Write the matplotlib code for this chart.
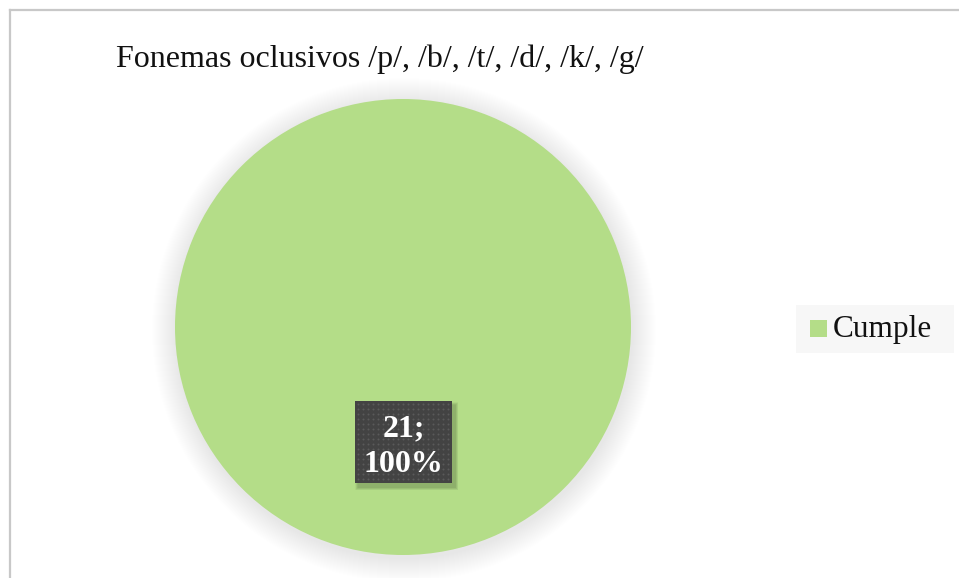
import matplotlib
matplotlib.use("Agg")
import matplotlib.pyplot as plt
from matplotlib.patches import Circle, Rectangle
import numpy as np

categories = ["Cumple"]
values = [21]
percent_labels = ["100%"]
title = "Fonemas oclusivos /p/, /b/, /t/, /d/, /k/, /g/"
colors = ["#b4dd88"]

W, H = 959, 578
fig = plt.figure(figsize=(W / 100, H / 100), dpi=100)
ax = fig.add_axes([0, 0, 1, 1])

cx, cy, r = 403, 327, 228

# soft shadow
for i in range(24, 0, -1):
    ax.add_patch(Circle((cx + 1, cy + 3), r + i, facecolor="#000000",
                        alpha=0.0055, edgecolor="none", zorder=1))

wedges, _ = ax.pie(values, colors=colors, center=(cx, cy), radius=r,
                   startangle=90, counterclock=False,
                   wedgeprops=dict(edgecolor="none"))
for w in wedges:
    w.set_zorder(2)

ax.set_xlim(0, W)
ax.set_ylim(H, 0)
ax.set_aspect("auto")
ax.axis("off")

# frame
ax.plot([9.5, 9.5], [H, 9.5], color="#c8c8c8", lw=1.6, zorder=5)
ax.plot([9.5, W], [9.5, 9.5], color="#c8c8c8", lw=1.6, zorder=5)

# title
ax.text(116, 59, title, fontsize=23, family="Liberation Serif",
        ha="left", va="center", color="#111111")

# data label box with shadow
bx0, by0, bw, bh = 355, 401, 97, 82
for i in range(6, 0, -1):
    ax.add_patch(Rectangle((bx0 + 3 - i / 2, by0 + 4 - i / 2), bw + i, bh + i,
                           facecolor="#000000", alpha=0.035, edgecolor="none", zorder=3))
ax.add_patch(Rectangle((bx0, by0), bw, bh, facecolor="#434343",
                       edgecolor="none", zorder=4))
# dotted texture
xs = np.arange(bx0 + 3, bx0 + bw, 5)
ys = np.arange(by0 + 3, by0 + bh, 5)
gx, gy = np.meshgrid(xs, ys)
ax.scatter(gx.ravel(), gy.ravel(), s=2.0, color="#5a5a5a", zorder=4.5, linewidths=0)
ax.text(bx0 + bw / 2, by0 + bh / 2 + 5, f"{values[0]};\n{percent_labels[0]}",
        fontsize=23, family="Liberation Serif", fontweight="bold",
        color="white", ha="center", va="center", linespacing=1.3, zorder=6)

# legend
ax.add_patch(Rectangle((796, 305), 158, 48, facecolor="#f7f7f7",
                       edgecolor="none", zorder=3))
ax.add_patch(Rectangle((810, 320), 17, 17, facecolor=colors[0],
                       edgecolor="none", zorder=4))
ax.text(833, 329, categories[0], fontsize=22.5, family="Liberation Serif",
        ha="left", va="center", color="#111111", zorder=5)

fig.savefig("out.png", dpi=100)
